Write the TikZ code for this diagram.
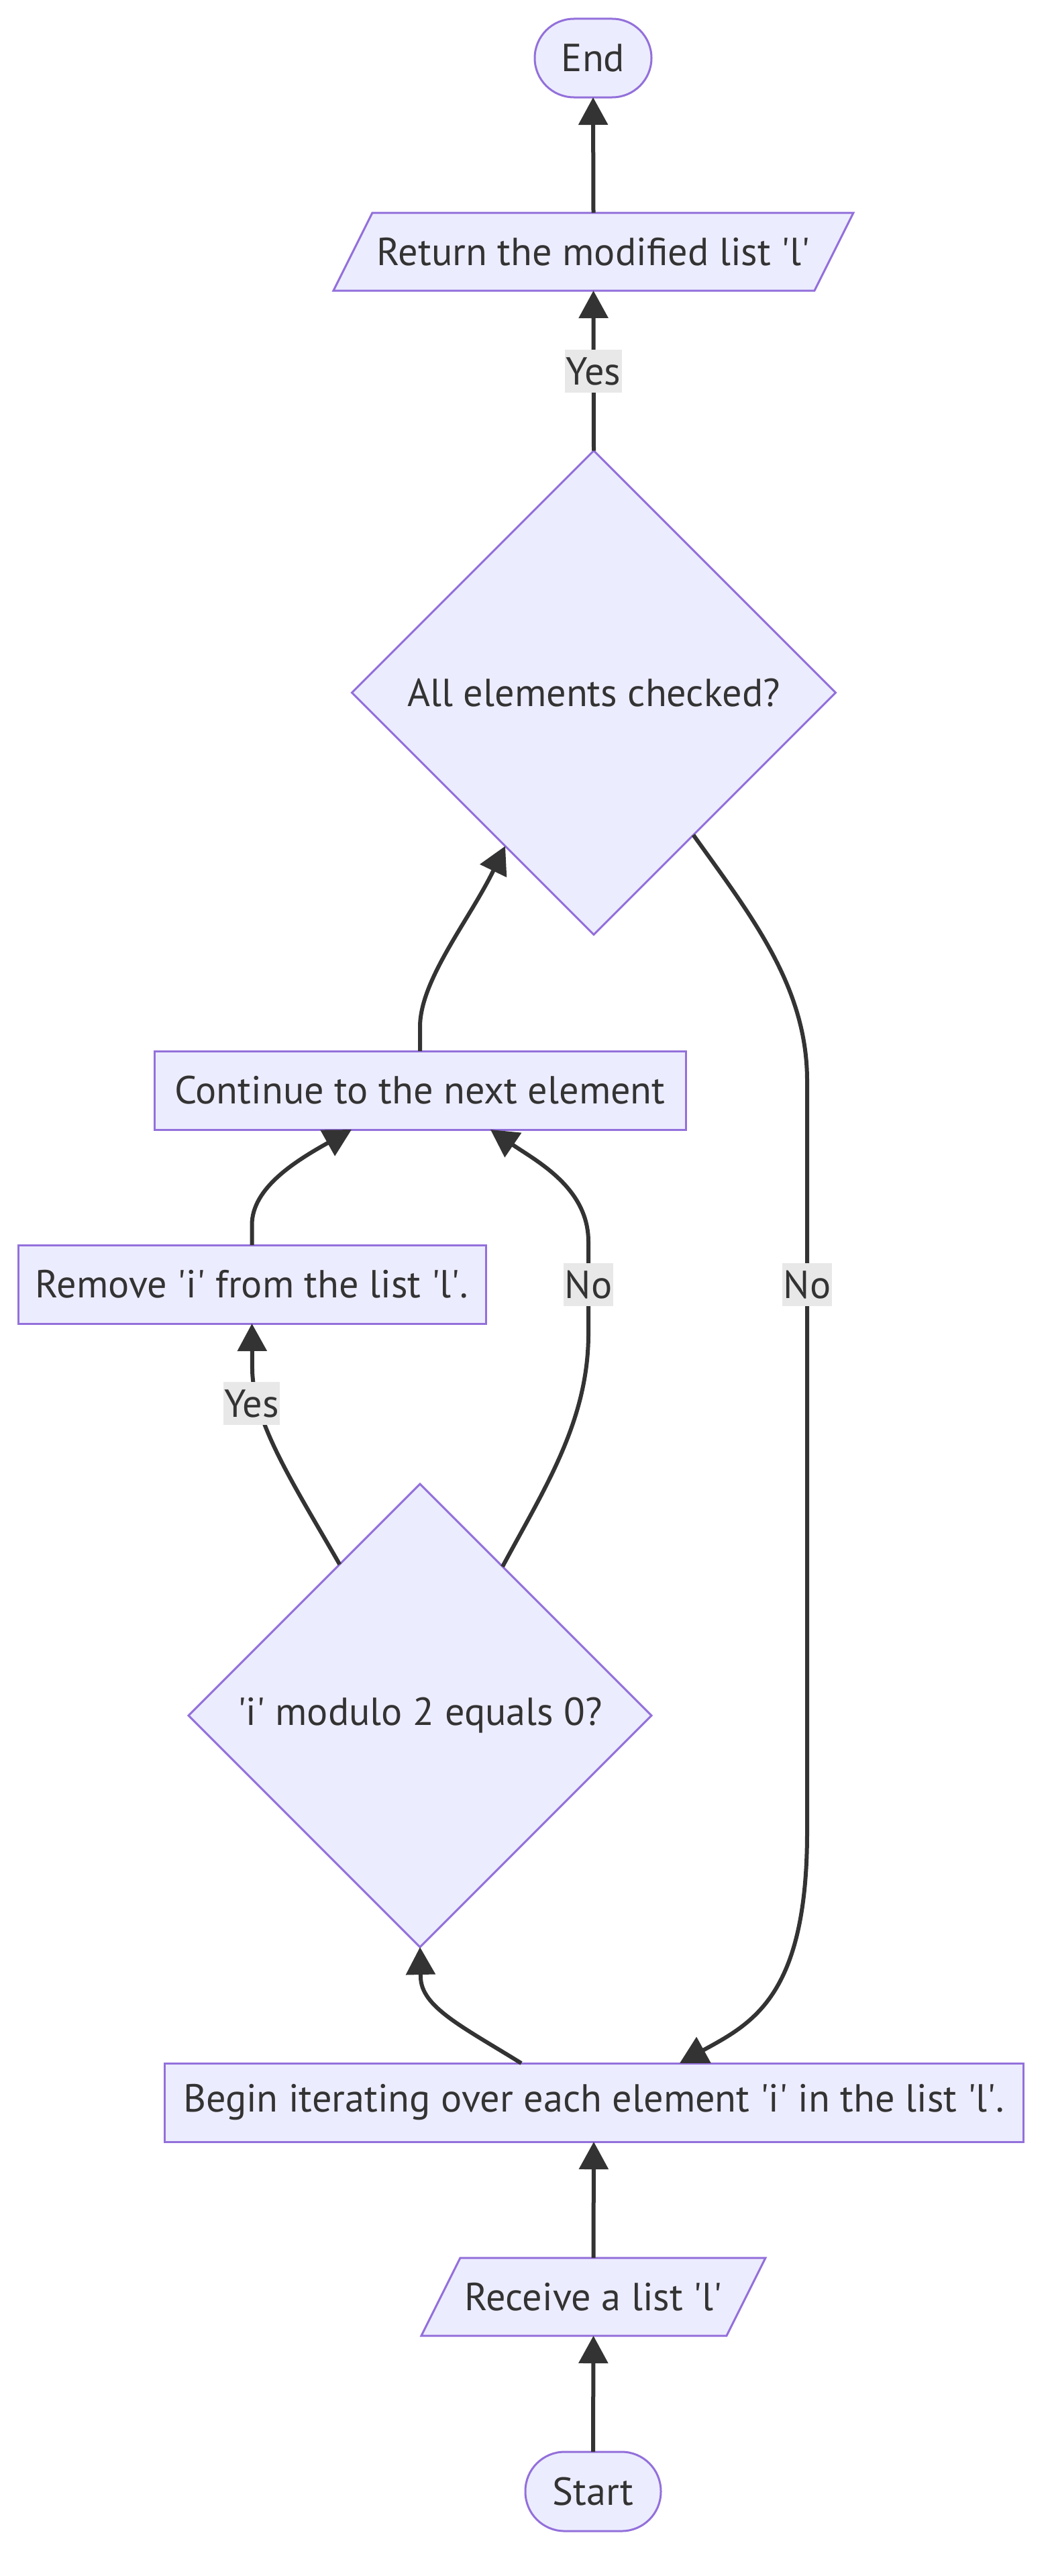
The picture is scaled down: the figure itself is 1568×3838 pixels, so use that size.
\documentclass[tikz,border=0pt]{standalone}
\usepackage{fontspec}
\setmainfont{PT Sans}
\usetikzlibrary{arrows.meta,shapes.geometric,backgrounds}
\definecolor{nodefill}{HTML}{ECECFF}
\definecolor{nodeline}{HTML}{9370DB}
\definecolor{edgecol}{HTML}{333333}
\definecolor{labelbg}{HTML}{E8E8E8}
\newlength\refw
\newcommand\myq{\textquotesingle}
\begin{document}
\settowidth\refw{\fontsize{50}{60}\selectfont Begin iterating over each element \myq i\myq{} in the list \myq l\myq.}%
\pgfmathsetmacro\fs{50*(1224/\refw)}%
\pgfmathsetmacro\bs{1.2*\fs}%
\begin{tikzpicture}[x=1pt,y=-1pt]
\tikzset{
  base/.style={font=\fontsize{\fs}{\bs}\selectfont, text=edgecol, inner sep=0pt, outer sep=0pt},
  box/.style={base, draw=nodeline, fill=nodefill, line width=3pt, minimum height=117pt},
  stadium/.style={box, rounded corners=58.5pt},
  decision/.style={base, diamond, shape aspect=1, draw=nodeline, fill=nodefill, line width=3pt},
  paratext/.style={base, minimum height=116pt},
  paraline/.style={draw=nodeline, fill=nodefill, line width=3pt, line join=miter},
  flow/.style={draw=edgecol, line width=6pt, -{Triangle[length=41pt,width=43pt]}},
  lbl/.style={base, fill=labelbg, inner xsep=1.5pt, minimum height=64pt}
}
\useasboundingbox (0,0) rectangle (1568,3838);

% nodes
\node[stadium, minimum width=174pt] (end) at (884,86.5) {End};
\node[paratext, minimum width=775pt] (ret) at (884.5,375) {Return the modified list \myq l\myq};
\node[decision, minimum width=721pt, minimum height=721pt] (d1) at (885,1032) {All elements checked?};
\node[box, minimum width=792pt] (cont) at (626,1624.5) {Continue to the next element};
\node[box, minimum width=697pt] (rem) at (375.5,1913.5) {Remove \myq i\myq{} from the list \myq l\myq.};
\node[decision, minimum width=690pt, minimum height=690pt] (d2) at (626,2556) {\myq i\myq{} modulo 2 equals 0?};
\node[box, minimum width=1280pt] (begin) at (885,3132.5) {Begin iterating over each element \myq i\myq{} in the list \myq l\myq.};
\node[paratext, minimum width=513pt] (recv) at (884.5,3422) {Receive a list \myq l\myq};
\node[stadium, minimum width=202pt, minimum height=118pt] (start) at (884,3712) {Start};

\begin{pgfonlayer}{background}
\fill[white] (0,0) rectangle (1568,3838);
\draw[paraline] ([xshift=58pt]ret.north west) -- (ret.north east) -- ([xshift=-58pt]ret.south east) -- (ret.south west) -- cycle;
\draw[paraline] ([xshift=58pt]recv.north west) -- (recv.north east) -- ([xshift=-58pt]recv.south east) -- (recv.south west) -- cycle;
\end{pgfonlayer}

% edges
\draw[flow] (start.north) -- (recv.south);
\draw[flow] (recv.north) -- (begin.south);
\draw[flow] ([xshift=-108pt]begin.north) .. controls (690,3020) and (627,2990) .. (627,2945) -- (d2.south);
\draw[flow] (d2.118.4) .. controls (440,2215) and (377,2120) .. (376,2040) -- (rem.south);
\draw[flow] (d2.61.4) .. controls (810,2220) and (876,2120) .. (877,1990) -- (877,1850) .. controls (877,1770) and (800,1730) .. ([xshift=105pt]cont.south);
\draw[flow] (rem.north) -- (375.5,1825) .. controls (375.5,1770) and (440,1730) .. ([xshift=-102pt]cont.south);
\draw[flow] (cont.north) -- (626,1530) .. controls (626,1460) and (700,1370) .. (d1.240.5);
\draw[flow] (d1.305.2) .. controls (1120,1365) and (1203,1470) .. (1203,1610) -- (1203,2730) .. controls (1203,2975) and (1120,3015) .. ([xshift=128pt]begin.north);
\draw[flow] (d1.north) -- (ret.south);
\draw[flow] (ret.north) -- (end.south);

% edge labels
\node[lbl] (lyes1) at (884.5,553) {Yes};
\node[lbl] (lyes2) at (375,2091) {Yes};
\node[lbl] (lno1) at (877,1914) {No};
\node[lbl] (lno2) at (1203,1914) {No};
\end{tikzpicture}
\end{document}
